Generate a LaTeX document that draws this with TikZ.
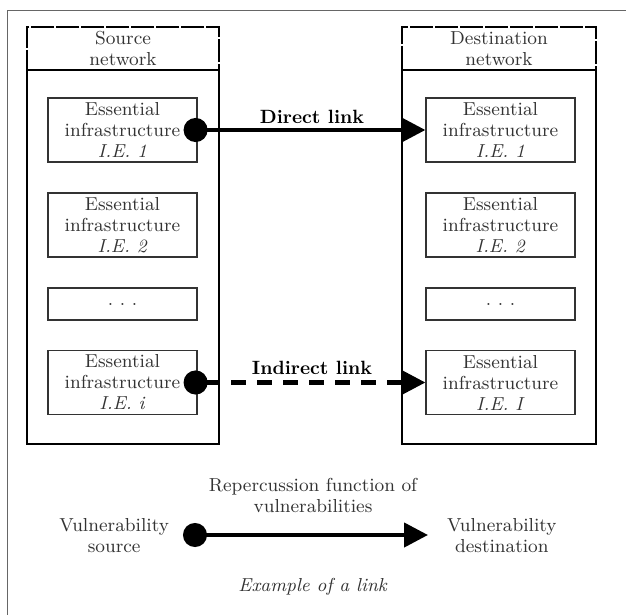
\documentclass[tikz,border=0pt]{standalone}
\usetikzlibrary{arrows.meta}

\begin{document}
\begin{tikzpicture}[x=0.5pt,y=-0.5pt,
    font=\fontsize{9.4}{10.5}\selectfont, text=black!80,
    iebox/.style={draw=black!80, line width=0.6pt, minimum width=74.5pt,
      minimum height=32pt, inner sep=0pt, align=center},
    dotsbox/.style={iebox, minimum height=16pt},
    nethead/.style={draw=black, line width=1pt, dash pattern=on 11.5pt off 1pt,
      minimum height=21.5pt, inner sep=0pt, align=center},
    netbody/.style={draw=black, line width=1pt, minimum height=187pt, inner sep=0pt},
    link/.style={line width=2.2pt,
      {Circle[length=12pt]}-{Triangle[length=12pt,width=12pt]}, shorten <=-7pt},
    linklabel/.style={font=\fontsize{9.6}{10.5}\selectfont\bfseries, text=black}]
  \useasboundingbox (0,0) rectangle (626,615);

  % Draw the outer frame
  \draw[black!60, line width=0.5pt] (7,615) -- (7,11) -- (626,11);

  % Draw the two networks
  \node[nethead, minimum width=96pt] (srchead) at (123,48.5) {Source\\network};
  \node[netbody, minimum width=96pt] (srcbody) at (123,257) {};
  \node[nethead, minimum width=97pt] (dsthead) at (499,48.5) {Destination\\network};
  \node[netbody, minimum width=97pt] (dstbody) at (499,257) {};

  % Draw the infrastructures in each network
  \foreach \n/\yy/\lab in {1/130/1, 2/225/2, i/382.5/i} {
    \node[iebox] (src\n) at (122.5,\yy) {Essential\\infrastructure\\\textit{I.E. \lab}};
  }
  \foreach \n/\yy/\lab in {1/130/1, 2/225/2, i/382.5/I} {
    \node[iebox] (dst\n) at (500.5,\yy) {Essential\\infrastructure\\\textit{I.E. \lab}};
  }
  \node[dotsbox] (srcdots) at (122.5,304) {.\kern.35em.\kern.35em.};
  \node[dotsbox] (dstdots) at (500.5,304) {.\kern.35em.\kern.35em.};

  % Draw the links between the networks
  \draw[link] (src1.east) -- (dst1.west);
  \node[linklabel] (direct) at (312,117) {Direct link};
  \draw[link, dash pattern=on 7.5pt off 5.5pt] (srci.east) -- (dsti.west);
  \node[linklabel] (indirect) at (312,368) {Indirect link};

  % Add the example of a link at the bottom
  \coordinate (vsrc) at (197,535);
  \coordinate (vdst) at (428,535);
  \draw[link] (vsrc) -- (vdst);
  \node[align=center, anchor=east] (vsrctext) at (176,536) {Vulnerability\\source};
  \node[align=center, anchor=west] (vdsttext) at (440,536) {Vulnerability\\destination};
  \node[align=center] (repfun) at (313,495) {Repercussion function of\\vulnerabilities};
  \node (example) at (313,587) {\textit{Example of a link}};

\end{tikzpicture}
\end{document}
